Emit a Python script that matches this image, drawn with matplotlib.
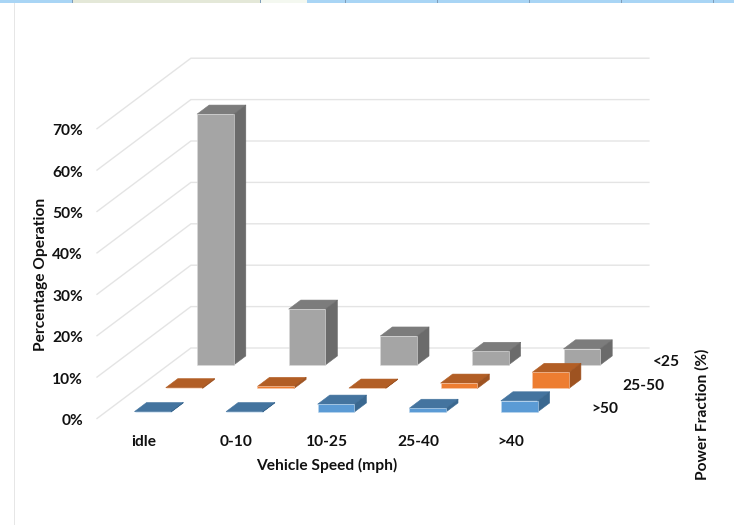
import matplotlib
matplotlib.use("Agg")
import matplotlib.pyplot as plt
from matplotlib.patches import Polygon, Rectangle

W, H = 734, 525
plt.rcParams['font.family'] = ['Lato', 'DejaVu Sans']

speed_labels = ['idle', '0-10', '10-25', '25-40', '>40']
power_labels = ['>50', '25-50', '<25']
value_ticks = [0, 10, 20, 30, 40, 50, 60, 70]
tick_labels = ['0%', '10%', '20%', '30%', '40%', '50%', '60%', '70%']

blue_over50 = [0.1, 0.1, 1.9, 0.9, 2.7]
orange_25_50 = [0.2, 0.5, 0.1, 1.3, 3.9]
gray_under25 = [60.6, 13.5, 7.0, 3.3, 3.9]

series = [blue_over50, orange_25_50, gray_under25]
front_cols = ['#5B9BD5', '#ED7D31', '#A5A5A5']
top_cols = ['#44749F', '#B25E25', '#7C7C7C']
side_cols = ['#3A6890', '#9E5321', '#6B6B6B']
edge_cols = ['#BDD7EE', '#F8CBAD', '#DBDBDB']

# scale of the oblique chart box, in pixels per data unit
CAT_PX, PCT_PX = 91.6, 4.14
X0_PX, Y0_PX = 97.0, 418.5
DEPTH_DX, DEPTH_DY = 31.3 / CAT_PX, 23.5 / PCT_PX
BAR_W, BAR_D = 0.4, 0.385
BAR_X, BAR_Z = 0.315, 0.277
GRID = '#E4E4E4'

fig = plt.figure(figsize=(W / 100, H / 100), dpi=100, facecolor='white')
ax = fig.add_axes([0, 0, 1, 1])
ax.set_xlim(-X0_PX / CAT_PX, (W - X0_PX) / CAT_PX)
ax.set_ylim((Y0_PX - H) / PCT_PX, Y0_PX / PCT_PX)
ax.axis('off')


def proj(x, depth, value):
    return x + depth * DEPTH_DX, value + depth * DEPTH_DY


n_cat, n_rows = len(speed_labels), len(power_labels)
for v in value_ticks:
    ax.plot(*zip(proj(0, 0, v), proj(0, n_rows, v), proj(n_cat, n_rows, v)),
            color=GRID, lw=1.0, solid_joinstyle='miter', zorder=1)

z = 2
for r in reversed(range(n_rows)):
    for i, v in enumerate(series[r]):
        x0, x1 = i + BAR_X, i + BAR_X + BAR_W
        d0, d1 = r + BAR_Z, r + BAR_Z + BAR_D
        faces = [
            ([proj(x0, d0, v), proj(x1, d0, v), proj(x1, d1, v), proj(x0, d1, v)], top_cols[r], top_cols[r]),
            ([proj(x1, d0, 0), proj(x1, d1, 0), proj(x1, d1, v), proj(x1, d0, v)], side_cols[r], side_cols[r]),
            ([proj(x0, d0, 0), proj(x1, d0, 0), proj(x1, d0, v), proj(x0, d0, v)], front_cols[r], edge_cols[r]),
        ]
        for pts, col, edge in faces:
            ax.add_patch(Polygon(pts, closed=True, facecolor=col, edgecolor=edge,
                                 lw=0.4, joinstyle='round', zorder=z))
        z += 1


def label(px, py, s, ha='center', rotation=0):
    fig.text(px / W, 1 - py / H, s, ha=ha, va='center', rotation=rotation,
             fontsize=11.2, fontweight='bold', color='#111111')


for v, s in zip(value_ticks, tick_labels):
    label(83, Y0_PX + 2.5 - v * PCT_PX, s, ha='right')
for i, s in enumerate(speed_labels):
    label(144 + i * CAT_PX, 441.5, s)
for r, s in enumerate(power_labels):
    label(591 + r * 31, 409 - r * 23.5, s, ha='left')
label(41, 274.5, 'Percentage Operation', rotation=90)
label(327, 465.5, 'Vehicle Speed (mph)')
label(702, 414.5, 'Power Fraction (%)', rotation=90)

# surrounding screenshot edge: chart frame and the strip along the top
def px_rect(x, y, w, h, col):
    fig.add_artist(Rectangle((x / W, 1 - (y + h) / H), w / W, h / H, transform=fig.transFigure,
                             facecolor=col, edgecolor='none'))


px_rect(14, 2, 1, H - 2, '#E6E6E6')
px_rect(0, 0, W, 2.5, '#A9D5F5')
px_rect(72, 0, 188, 2.5, '#E4E8D8')
px_rect(260, 0, 47, 2.5, '#F4F8F0')
for tx in [72, 260, 345, 437, 529, 621, 713]:
    px_rect(tx, 0, 1, 2.5, '#7F9DB9')

fig.savefig('out.png', dpi=100, facecolor='white')
